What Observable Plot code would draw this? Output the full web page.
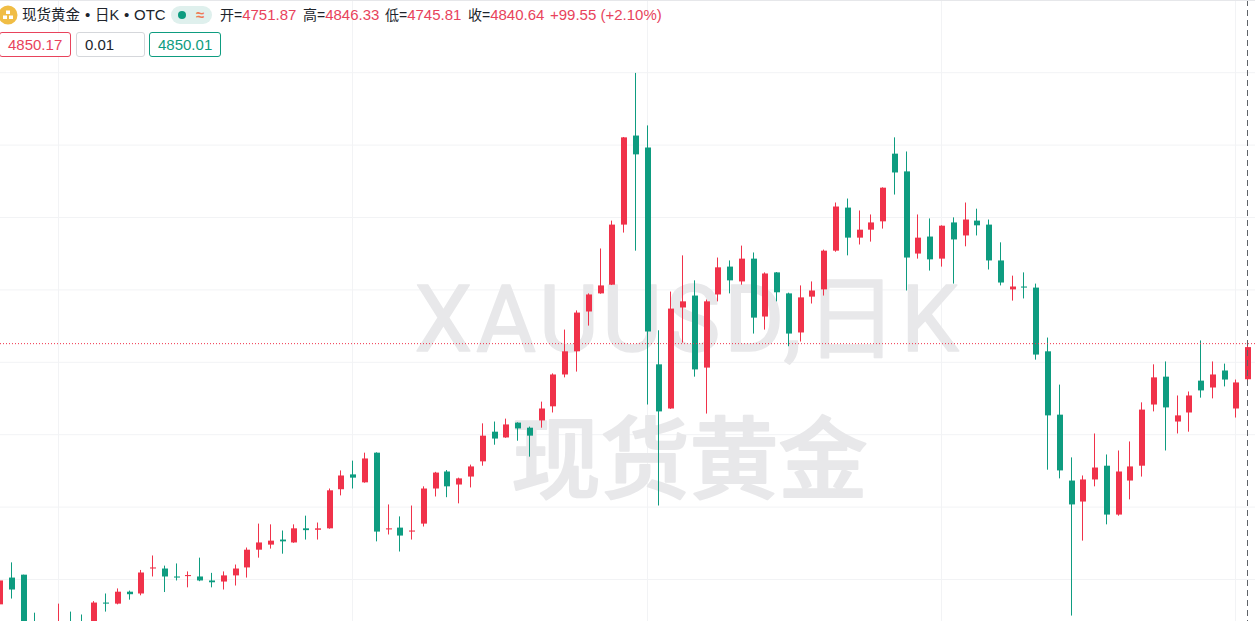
<!DOCTYPE html>
<html><head><meta charset="utf-8">
<script src="https://cdn.jsdelivr.net/npm/d3@7"></script>
<script src="https://cdn.jsdelivr.net/npm/@observablehq/plot@0.6"></script>
<style>
html,body{margin:0;padding:0;background:#fff;overflow:hidden;width:1255px;height:621px}
#wrap{position:relative;width:1255px;height:621px}
#chart{position:absolute;left:0;top:0}
.t{position:absolute;font:15px/18px "Liberation Sans","Noto Sans CJK SC",sans-serif;color:#20242b;white-space:nowrap;top:6px}
.c{font-size:14.5px}
.k{font-size:14px}
.r{color:#e8435c}
.box{position:absolute;top:32px;height:23px;line-height:23px;border:1px solid;border-radius:3px;box-sizing:content-box;font:15px/23px "Liberation Sans",sans-serif;padding-left:8px;background:#fff}
#topline{position:absolute;left:0;top:0;width:1255px;height:1px;background:#e6e7ea}
</style></head><body>
<div id="wrap">
<div id="chart"></div>
<div id="topline"></div>
<svg style="position:absolute;left:-2px;top:5px" width="20" height="20" viewBox="0 0 20 20"><circle cx="10" cy="10" r="9.5" fill="#f0bd45"/><rect x="8" y="5.5" width="4" height="3.5" fill="#fff"/><rect x="5" y="10.5" width="4" height="3.5" fill="#fff"/><rect x="11" y="10.5" width="4" height="3.5" fill="#fff"/></svg>
<div class="t c" style="left:22px">现货黄金</div>
<div class="t" style="left:85px">•</div>
<div class="t c" style="left:95px">日K</div>
<div class="t" style="left:124px">•</div>
<div class="t" style="left:134px">OTC</div>
<div style="position:absolute;left:171px;top:6px;width:41px;height:18px;border-radius:9px;background:#dff0ed"></div>
<div style="position:absolute;left:177.5px;top:11px;width:8px;height:8px;border-radius:4px;background:#0e9c80"></div>
<div class="t" style="left:196px;top:6px;color:#ef7a55;font-size:15px;font-weight:bold">≈</div>
<div class="t" style="left:220px"><span class="k">开=</span><span class="r">4751.87</span></div>
<div class="t" style="left:303px"><span class="k">高=</span><span class="r">4846.33</span></div>
<div class="t" style="left:385px"><span class="k">低=</span><span class="r">4745.81</span></div>
<div class="t" style="left:468px"><span class="k">收=</span><span class="r">4840.64</span></div>
<div class="t r" style="left:550px">+99.55 (+2.10%)</div>
<div class="box" style="left:-1px;width:62px;border-color:#e8435c;color:#e8435c">4850.17</div>
<div class="box" style="left:76px;width:59px;border-color:#d5d7db;color:#20242b">0.01</div>
<div class="box" style="left:149px;width:62px;border-color:#0e9c80;color:#0e9c80">4850.01</div>
</div>
<script>
const opens=[4130,4204,4212,4074,4047,4033,4074,4074,4083,4135,4132,4165,4160,4229,4229,4207,4208,4207,4196,4193,4210,4232,4281,4295,4309,4301,4340,4336,4340,4448,4489,4467,4549,4337,4342,4331,4353,4450,4497,4461,4483,4525,4607,4591,4632,4618,4638,4677,4765,4829,4939,4989,5013,5179,5425,5392,4793,4671,4950,4983,4784,4986,5063,5022,5085,4925,5047,4989,4881,4980,5000,5107,5226,5143,5165,5188,5375,5326,5099,5146,5085,5185,5149,5190,5179,5080,5000,5008,5005,4829,4654,4472,4414,4475,4513,4378,4472,4513,4682,4759,4635,4660,4748,4729,4776,4671,4751.87];
const closes=[4196,4171,4061,4033,4019,4074,4033,4033,4135,4132,4165,4158,4218,4232,4207,4204,4211,4196,4191,4210,4229,4281,4301,4306,4304,4340,4335,4340,4445,4486,4480,4533,4331,4340,4320,4334,4450,4494,4456,4478,4511,4596,4588,4627,4616,4596,4671,4765,4829,4936,4986,5011,5179,5420,5373,4884,4663,4947,4967,4779,4967,5061,5025,5085,4922,5044,4992,4878,4978,4997,5107,5229,5143,5165,5185,5281,5323,5088,5143,5083,5176,5138,5193,5177,5080,5019,5008,5005,4820,4652,4500,4406,4475,4508,4378,4497,4511,4668,4757,4674,4652,4707,4721,4765,4751,4743,4840.64];
const highs=[4199,4246,4212,4107,4061,4132,4110,4102,4139,4160,4174,4168,4225,4265,4237,4243,4221,4259,4217,4221,4240,4287,4353,4351,4334,4351,4375,4356,4450,4500,4527,4549,4550,4406,4373,4403,4456,4496,4501,4480,4516,4630,4635,4643,4633,4621,4690,4768,4889,4942,4989,5113,5190,5421,5598,5453,4887,4994,5094,5025,4972,5088,5080,5121,5102,5047,5048,4991,5011,5022,5110,5240,5251,5218,5207,5282,5420,5381,5207,5196,5177,5199,5240,5223,5193,5130,5038,5047,5016,4867,4737,4536,4486,4602,4544,4555,4580,4688,4793,4801,4707,4718,4859,4801,4795,4751,4846.33];
const lows=[4127,4146,4033,4005,4005,4005,4005,4005,4061,4110,4130,4143,4155,4207,4164,4196,4177,4194,4177,4171,4182,4204,4259,4284,4270,4300,4309,4309,4339,4431,4450,4466,4304,4323,4276,4309,4345,4428,4426,4409,4453,4513,4571,4590,4582,4538,4618,4660,4757,4773,4900,4988,5012,5157,5107,4682,4403,4670,4853,4759,4657,4967,4989,5013,4878,4889,4967,4843,4856,4961,4983,5104,5094,5124,5132,5168,5262,4997,5085,5052,5063,5016,5119,5149,5055,5011,4969,4975,4806,4502,4478,4099,4306,4456,4351,4375,4420,4483,4663,4555,4602,4607,4701,4699,4732,4646,4745.81];
const gridPrices=[4200,4400,4600,4800,5000,5200,5400,5600];
const gridIndexes=[5,30,55,80,105];
const lastPrice=4850.17;
const lastIndex=106;
const watermarkTop="XAUUSD,日K";
const watermarkBottom="现货黄金";

const red="#f0324a", teal="#0e9c80";
const idx=d3.range(opens.length);
const dir=i=>closes[i]>=opens[i]?"up":"down";
const wm="#e8e8ea";
const plot=Plot.plot({
  width:1255,height:621,margin:0,
  x:{domain:[0,1255/11.775],range:[-1,1254],axis:null,round:true},
  y:{domain:[4085.4,5800.8],range:[620.5,-0.5],axis:null},
  color:{domain:["up","down"],range:[red,teal]},
  marks:[
    Plot.ruleY(gridPrices,{y:d=>d,stroke:"#f2f3f5"}),
    Plot.ruleX(gridIndexes,{x:d=>d,stroke:"#f2f3f5"}),
    Plot.text([watermarkTop],{text:d=>d,frameAnchor:"top-left",dx:688,dy:285,fontSize:92,fontWeight:400,fontFamily:"Roboto, Noto Sans CJK SC",fill:wm,stroke:wm,strokeWidth:1.5,textAnchor:"middle"}),
    Plot.text([watermarkBottom],{text:d=>d,frameAnchor:"top-left",dx:689,dy:427,fontSize:89,fontWeight:500,fontFamily:"Noto Sans CJK SC",fill:wm,stroke:wm,strokeWidth:2,textAnchor:"middle"}),
    Plot.ruleX(idx,{x:d=>d,y1:i=>lows[i],y2:i=>highs[i],stroke:dir,strokeWidth:1,clip:true}),
    Plot.ruleX(idx,{x:d=>d,y1:i=>opens[i],y2:i=>closes[i],stroke:dir,strokeWidth:6,dx:0.5,clip:true}),
    Plot.ruleY([lastPrice],{y:d=>d,dy:-0.5,stroke:"#f0324a",strokeDasharray:"1,2"}),
    Plot.ruleX([lastIndex],{x:d=>d,stroke:"#5f6368",strokeDasharray:"6,4"})
  ]
});
d3.select(plot).selectAll("text").style("letter-spacing",function(){return this.textContent===watermarkTop?"3.7px":null;}).attr("paint-order","stroke");
document.getElementById("chart").appendChild(plot);
</script>
</body></html>
